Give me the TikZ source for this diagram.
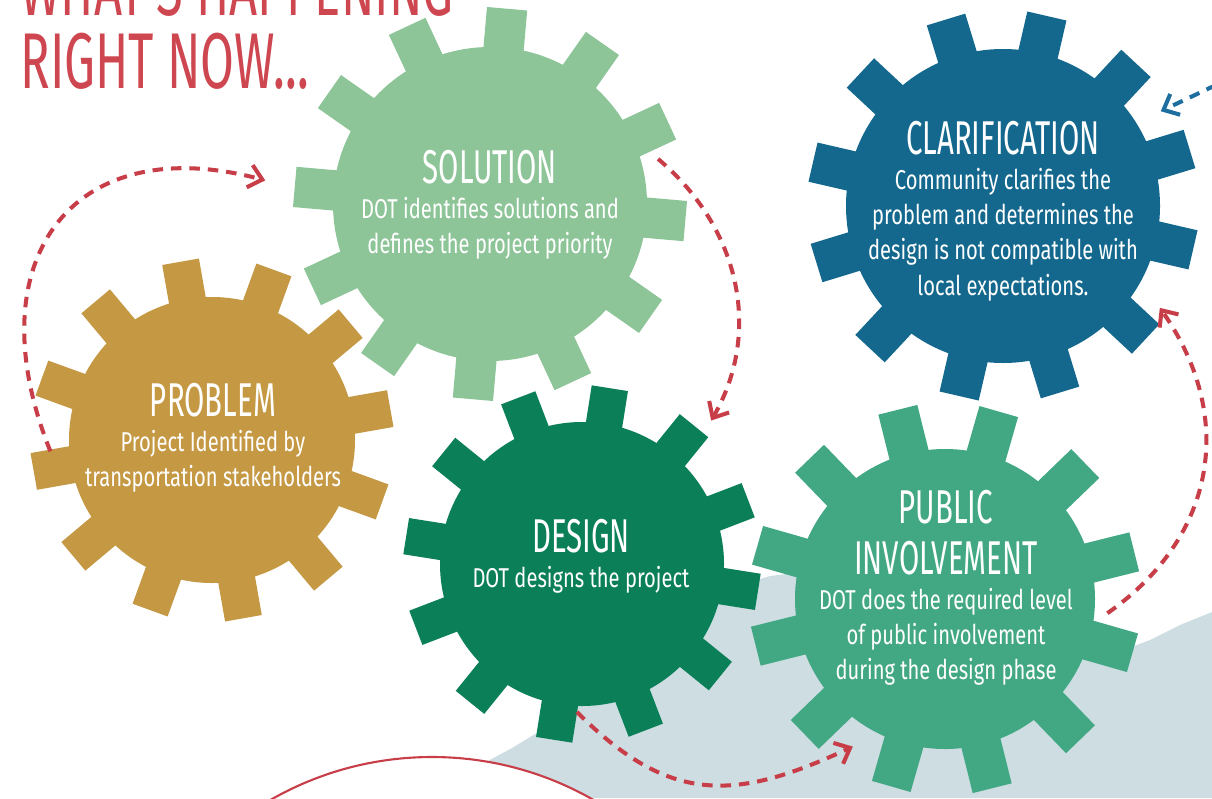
\documentclass[tikz,border=0pt]{standalone}
\usepackage{fontspec}
\setmainfont{Fira Sans}
\newfontfamily\ttlfont[FakeStretch=0.62]{Fira Sans}
\newfontfamily\bdyfont[FakeStretch=0.74]{Fira Sans}
\usetikzlibrary{arrows.meta,calc}
\definecolor{gearprob}{RGB}{197,152,68}
\definecolor{gearsol}{RGB}{141,197,152}
\definecolor{gearclar}{RGB}{20,104,142}
\definecolor{geardes}{RGB}{10,127,88}
\definecolor{gearpub}{RGB}{66,168,132}
\definecolor{arrred}{RGB}{200,62,72}
\definecolor{arrblue}{RGB}{30,110,160}
\definecolor{titlered}{RGB}{205,70,80}
\definecolor{ground}{RGB}{205,221,226}
\newcommand{\gttl}[1]{{\ttlfont\fontsize{27}{29}\selectfont #1}}

\begin{document}
\begin{tikzpicture}[x=0.02cm, y=0.02cm,
  gtxt/.style={text=white, align=center, inner sep=0pt,
    font=\bdyfont\fontsize{15.5}{20}\selectfont},
  head/.style={text=titlered, anchor=base west, inner sep=0pt,
    font=\ttlfont\fontsize{45}{50}\selectfont},
  flow/.style={draw=#1, line width=2.3pt, dash pattern=on 6pt off 4.5pt,
    -{Straight Barb[length=2.6mm, width=4.6mm]}},
  flow/.default=arrred,
]
\useasboundingbox (0,0) rectangle (1212,-798);
\clip (0,0) rectangle (1212,-798);
% ground and ring
\fill[ground] (470,-798) -- (486,-762) -- (512,-748) -- (545,-728)
  -- (575,-706) -- (640,-660) -- (700,-615) -- (740,-585) -- (770,-576)
  -- (900,-560) -- (1080,-640) -- (1110,-655) -- (1150,-640)
  -- (1180,-625) -- (1212,-612) -- (1212,-798) -- cycle;
\draw[arrred, line width=1.2pt, fill=white] (432,-1082) circle (325);
% title
\node[head] (ttla) at (20,-15) {WHAT’S HAPPENING};
\node[head] (ttlb) at (20,-88) {RIGHT NOW...};
% gears
\foreach \n/\x/\y/\ri/\ro/\p/\c in {
    cprob/212/440/143/181/10/gearprob,
    csol/490/204/157/196/355/gearsol,
    cclar/1003/206/157/195/17/gearclar,
    cdes/582/564/142/178/21/geardes,
    cpub/945/599/150/195/14/gearpub} {
  \coordinate (\n) at (\x,-\y);
  \fill[\c] (\n) circle (\ri);
  \foreach \a in {0,30,...,330}
    \fill[\c, shift={(\x,-\y)}, rotate=\a+\p]
      (0.8*\ri,-0.103*\ro) rectangle (\ro,0.103*\ro);
}
% texts
\node[gtxt] (prob) at (213,-438)
  {\gttl{PROBLEM}\\Project Identified by\\transportation stakeholders};
\node[gtxt] (sol) at (490,-205)
  {\gttl{SOLUTION}\\DOT identifies solutions and\\defines the project priority};
\node[gtxt] (clar) at (1003,-211)
  {\gttl{CLARIFICATION}\\Community clarifies the\\problem and determines the\\
   design is not compatible with\\local expectations.};
\node[gtxt] (des) at (581,-556) {\gttl{DESIGN}\\DOT designs the project};
\node[gtxt] (pub) at (946,-588)
  {\gttl{PUBLIC}\\[9pt]\gttl{INVOLVEMENT}\\DOT does the required level\\
   of public involvement\\during the design phase};
% connectors
\coordinate (a1s) at ($(cprob)+(184:162)$);
\coordinate (a1e) at ($(csol)+(174:226)$);
\coordinate (a2s) at ($(csol)+(15:174)$);
\coordinate (a2e) at ($(cdes)+(48:193)$);
\coordinate (a3s) at ($(cdes)+(268:148)$);
\coordinate (a3e) at ($(cpub)+(238:174)$);
\coordinate (a4s) at ($(cpub)+(-5:163)$);
\coordinate (a4e) at ($(cclar)+(-33:187)$);
\coordinate (a5s) at (1216,-85);
\coordinate (a5e) at ($(cclar)+(31:184)$);
\draw[flow] (a1s) to[out=112, in=165, looseness=1.5] (a1e);
\draw[flow] (a2s) to[out=-40, in=60] (a2e);
\draw[flow] (a3s) to[out=-45, in=205, looseness=1.2] (a3e);
\draw[flow] (a4s) to[out=35, in=-55, looseness=1.1] (a4e);
\draw[flow=arrblue] (a5s) -- (a5e);
\end{tikzpicture}
\end{document}
